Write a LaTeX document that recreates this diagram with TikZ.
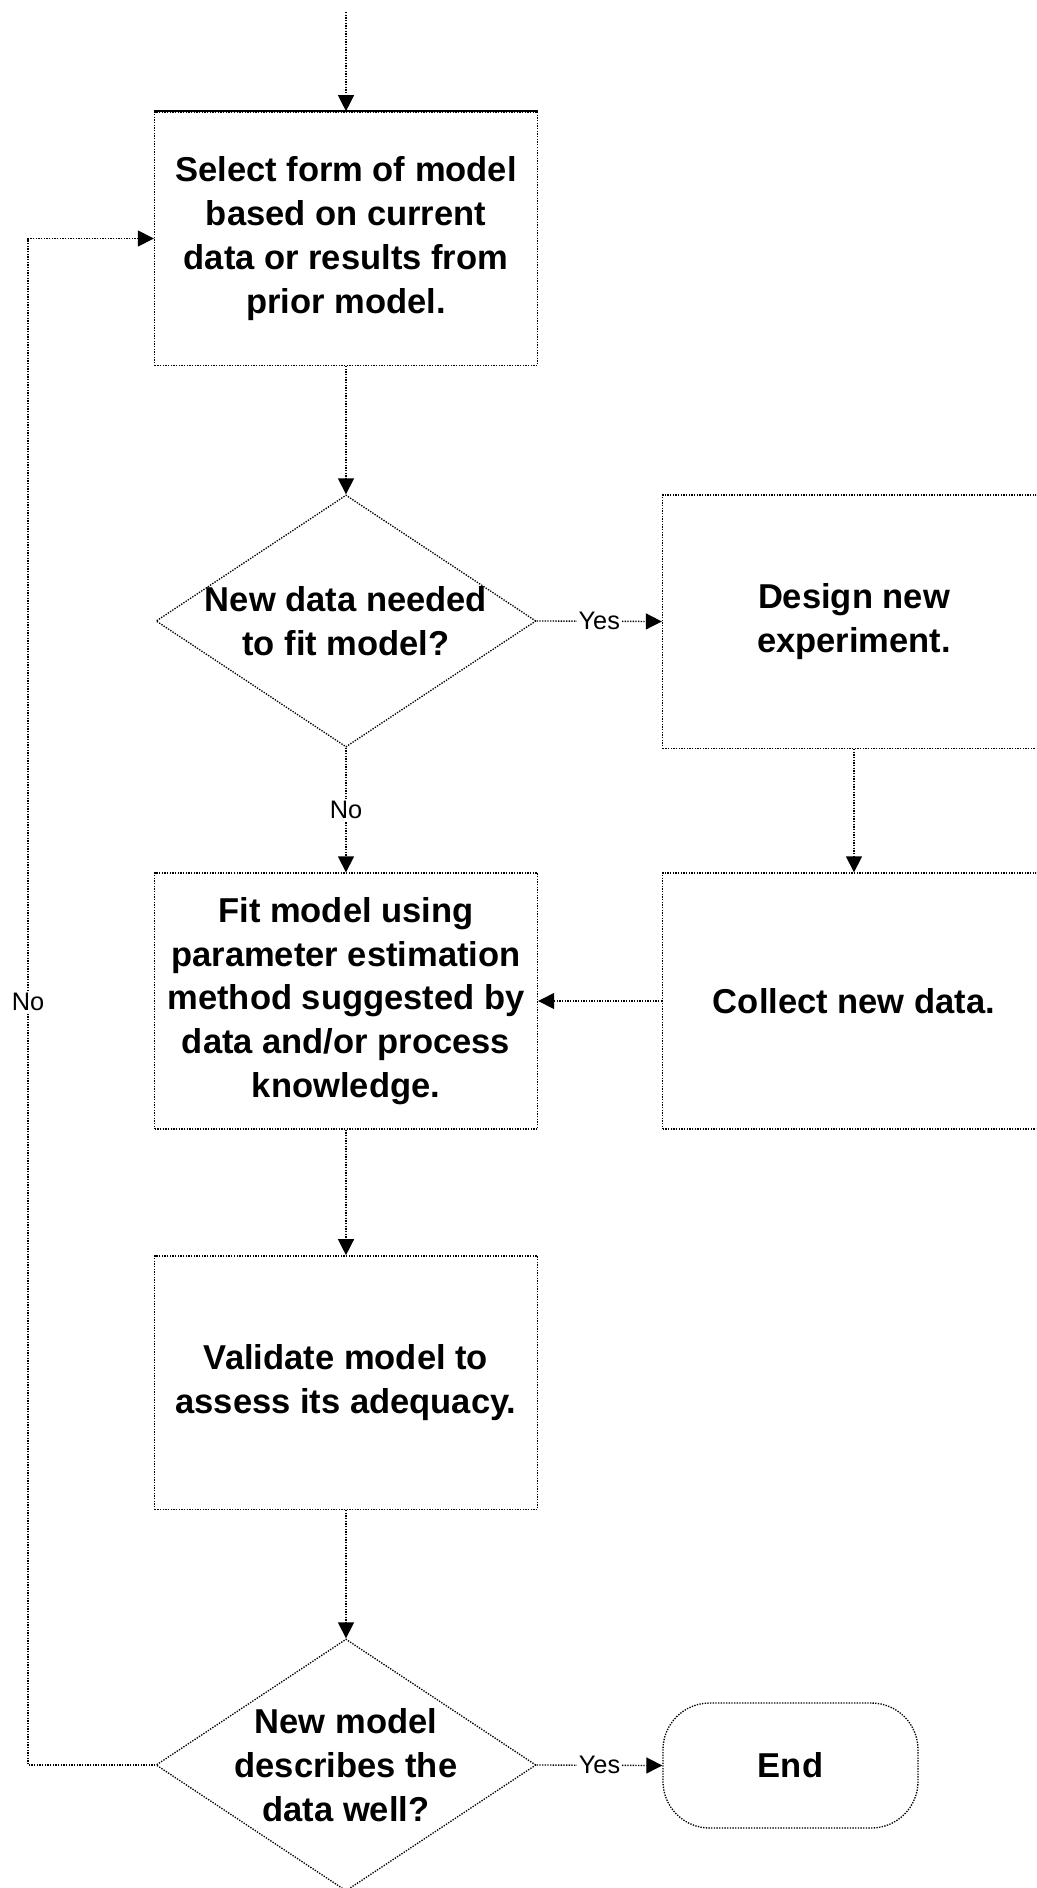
\documentclass[tikz,border=0pt]{standalone}
\usepackage{fontspec}
\setmainfont{Liberation Sans}
\usetikzlibrary{shapes.geometric,arrows.meta}
\begin{document}
\begin{tikzpicture}[x=0.75pt,y=-0.75pt,
  ln/.style={line width=1pt, dash pattern=on 1pt off 1pt, draw=black},
  boxtext/.style={font=\fontsize{25.9}{32.8}\selectfont\bfseries, align=center},
  boxnode/.style={ln, rectangle, minimum width=287.25pt, minimum height=190pt, inner sep=0pt, boxtext},
  dia/.style={ln, diamond, minimum width=285pt, minimum height=189pt, inner sep=0pt},
  termnode/.style={ln, rectangle, rounded corners=35pt, minimum width=191.25pt, minimum height=93.75pt, inner sep=0pt, boxtext},
  lbl/.style={font=\fontsize{19}{23}\selectfont, fill=white, inner sep=1.5pt},
  arr/.style={ln, -{Triangle[length=12pt,width=12pt]}}
]
\useasboundingbox (0,0) rectangle (1036,1888);
\clip (0,0) rectangle (1036,1888);

\coordinate (start) at (346,12);
\node[boxnode] (sel) at (346,238.5) {Select form of model\\based on current\\data or results from\\prior model.};
\draw[line width=1.3pt] (sel.north west) -- (sel.north east);

\node[dia] (d1) at (346,621) {};
\node[boxtext] (d1t) at (d1.center) {New data needed\\to fit model?};

\node[boxnode] (des) at (854,621.5) {Design new\\experiment.};
\node[boxnode, minimum height=192pt] (col) at (854,1001) {Collect new data.};
\node[boxnode, minimum height=192pt] (fit) at (346,1001) {Fit model using\\parameter estimation\\method suggested by\\data and/or process\\knowledge.};
\node[boxnode] (val) at (346,1382.5) {Validate model to\\assess its adequacy.};

\node[dia] (d2) at (346,1765) {};
\node[boxtext] (d2t) at (d2.center) {New model\\describes the\\data well?};

\node[termnode] (end) at (790.5,1765.5) {End};

\coordinate (fb) at (28,1765);

\draw[arr] (start) -- (sel.north);
\draw[arr] (sel.south) -- (d1.north);
\draw[arr] (d1.east) -- node[lbl] (y1) {Yes} (des.west);
\draw[arr] (des.south) -- (col.north);
\draw[arr] (d1.south) -- node[lbl] (n1) {No} (fit.north);
\draw[arr] (col.west) -- (fit.east);
\draw[arr] (fit.south) -- (val.north);
\draw[arr] (val.south) -- (d2.north);
\draw[arr] (d2.east) -- node[lbl] (y2) {Yes} (end.west);
\draw[arr] (d2.west) -- (fb) -- node[lbl, pos=0.5] (n2) {No} (fb |- sel.west) -- (sel.west);
\end{tikzpicture}
\end{document}
